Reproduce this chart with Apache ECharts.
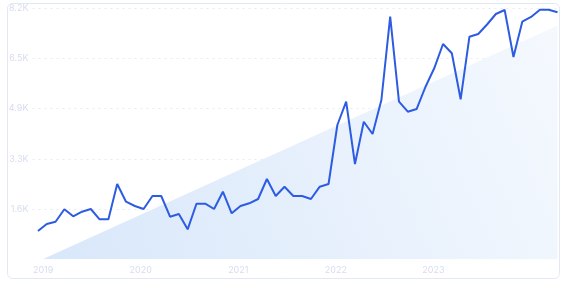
<!DOCTYPE html>
<html>
<head>
<meta charset="utf-8">
<style>
html,body{margin:0;padding:0;background:#fff;}
#c{width:567px;height:284px;}
</style>
<script src="https://cdn.jsdelivr.net/npm/echarts@6/dist/echarts.min.js"></script>
</head>
<body>
<div id="c"></div>
<script>
// point index (0..59) for each observation
var values = [925,1153,1228,1634,1405,1555,1643,1307,1307,2460,
  1882,1741,1643,2068,2068,1392,1480,980,1816,1816,
  1643,2208,1503,1741,1830,1970,2623,2068,2372,2068,
  2068,1970,2372,2460,4388,5149,3113,4495,4094,5204,
  7926,5149,4822,4910,5629,6240,7034,6730,5227,7272,
  7361,7671,8014,8145,6609,7762,7916,8150,8150,8069];
var yearLabels = ['2019','2020','2021','2022','2023'];
var yearLabelPositions = [0.59, 11.67, 22.75, 33.83, 44.91];
var yTickLabels = ['', '1.6K', '3.3K', '4.9K', '6.5K', '8.2K'];
var trendX = [0.53, 59];
var trendY = [0, 7635];

var lineData = values.map(function(v, i){ return [i, v]; });
var trendData = trendX.map(function(x, i){ return [x, trendY[i]]; });

var chart = echarts.init(document.getElementById('c'));
chart.setOption({
  animation: false,
  grid: {left: 32.5, right: 9.5, top: 8.3, bottom: 24.7, containLabel: false},
  xAxis: {
    type: 'value', min: -0.62, max: 59,
    axisLine: {show: false}, axisTick: {show: false},
    splitLine: {show: false},
    axisLabel: {
      customValues: yearLabelPositions,
      color: '#d6ddef', fontSize: 9, fontFamily: 'Inter', margin: 6,
      formatter: function(v){
        for (var i = 0; i < yearLabelPositions.length; i++) {
          if (Math.abs(yearLabelPositions[i] - v) < 0.01) return yearLabels[i];
        }
        return '';
      }
    }
  },
  yAxis: {
    type: 'value', min: 0, max: 8200, interval: 1640,
    axisLine: {show: false}, axisTick: {show: false},
    splitLine: {show: true, showMinLine: false, lineStyle: {color: '#e8ebf2', type: [2, 4], width: 1}},
    axisLabel: {
      color: '#d6ddef', fontSize: 9, fontFamily: 'Inter', margin: 4,
      formatter: function(v){ return yTickLabels[Math.round(v / 1640)]; }
    }
  },
  graphic: [{
    type: 'rect', shape: {x: 7.5, y: 3.5, width: 552, height: 275, r: 5},
    style: {fill: 'none', stroke: '#e1e8f6', lineWidth: 1}, z: -1
  }],
  series: [{
    type: 'line', data: trendData, symbol: 'none', silent: true,
    lineStyle: {width: 0, opacity: 0},
    areaStyle: {
      opacity: 1,
      color: new echarts.graphic.LinearGradient(0, 1, 1, 0, [
        {offset: 0, color: 'rgba(216,231,250,1)'},
        {offset: 1, color: 'rgba(245,249,254,1)'}
      ])
    },
    z: 1
  }, {
    type: 'line', data: lineData, symbol: 'none',
    lineStyle: {color: '#2d5ce2', width: 2},
    z: 3
  }]
});
</script>
</body>
</html>
